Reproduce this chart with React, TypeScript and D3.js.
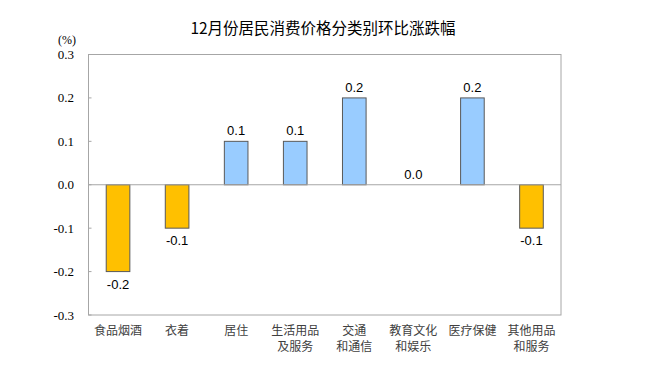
import React from "react";
import * as d3 from "d3";

const categories: string[][] = [
  ["食品烟酒"],
  ["衣着"],
  ["居住"],
  ["生活用品", "及服务"],
  ["交通", "和通信"],
  ["教育文化", "和娱乐"],
  ["医疗保健"],
  ["其他用品", "和服务"],
];
const values: number[] = [-0.2, -0.1, 0.1, 0.1, 0.2, 0.0, 0.2, -0.1];
const yTicks: number[] = [0.3, 0.2, 0.1, 0.0, -0.1, -0.2, -0.3];
const title = "12月份居民消费价格分类别环比涨跌幅";
const unit = "(%)";

export default function App() {
  const W = 653, H = 381;
  const left = 88.5, right = 561, top = 54.5, bottom = 315;
  const x = d3.scaleBand<number>().domain(d3.range(values.length)).range([left, right]).paddingInner(0.6).paddingOuter(0.3);
  const y = d3.scaleLinear().domain([-0.3, 0.3]).range([bottom, top]);
  const y0 = y(0);
  const sans = "'Liberation Sans', Arial, sans-serif";
  const cjk = "'Noto Sans CJK SC', sans-serif";
  const serif = "'Liberation Serif', 'Times New Roman', serif";
  return (
    <svg width={W} height={H} style={{ position: "absolute", left: 0, top: 0, background: "#fff" }}>
      <text x={323} y={34} textAnchor="middle" fontFamily={cjk} fontSize={15.5} fill="#000">{title}</text>
      <text x={67} y={44} textAnchor="middle" fontFamily={serif} fontSize={12} fill="#000">{unit}</text>
      <rect x={left} y={top} width={right - left} height={bottom - top} fill="none" stroke="#a6a6a6" strokeWidth={1} />
      {yTicks.map((t) => (
        <g key={t}>
          <line x1={left} x2={left + 3} y1={y(t)} y2={y(t)} stroke="#a6a6a6" />
          <text x={74} y={y(t) + 4.5} textAnchor="end" fontFamily={serif} fontSize={13} fill="#000">
            {t.toFixed(1)}
          </text>
        </g>
      ))}
      {values.map((v, i) => {
        const bx = x(i)!;
        const bw = x.bandwidth();
        const yy = Math.min(y(v), y0);
        const hh = Math.abs(y(v) - y0);
        const cx = bx + bw / 2;
        return (
          <g key={i}>
            {hh > 0 && (
              <rect x={bx} y={yy} width={bw} height={hh} fill={v < 0 ? "#ffc000" : "#99ccff"} stroke="#595959" strokeWidth={1} />
            )}
            <text x={cx} y={v < 0 ? y(v) + 17 : y(v) - 6} textAnchor="middle" fontFamily={sans} fontSize={13} fill="#000">
              {v.toFixed(1)}
            </text>
            {categories[i].map((line, j) => (
              <text key={j} x={cx} y={335 + j * 16} textAnchor="middle" fontFamily={cjk} fontSize={12} fill="#404040">
                {line}
              </text>
            ))}
          </g>
        );
      })}
      <line x1={left} x2={right} y1={y0} y2={y0} stroke="#a6a6a6" />
    </svg>
  );
}
